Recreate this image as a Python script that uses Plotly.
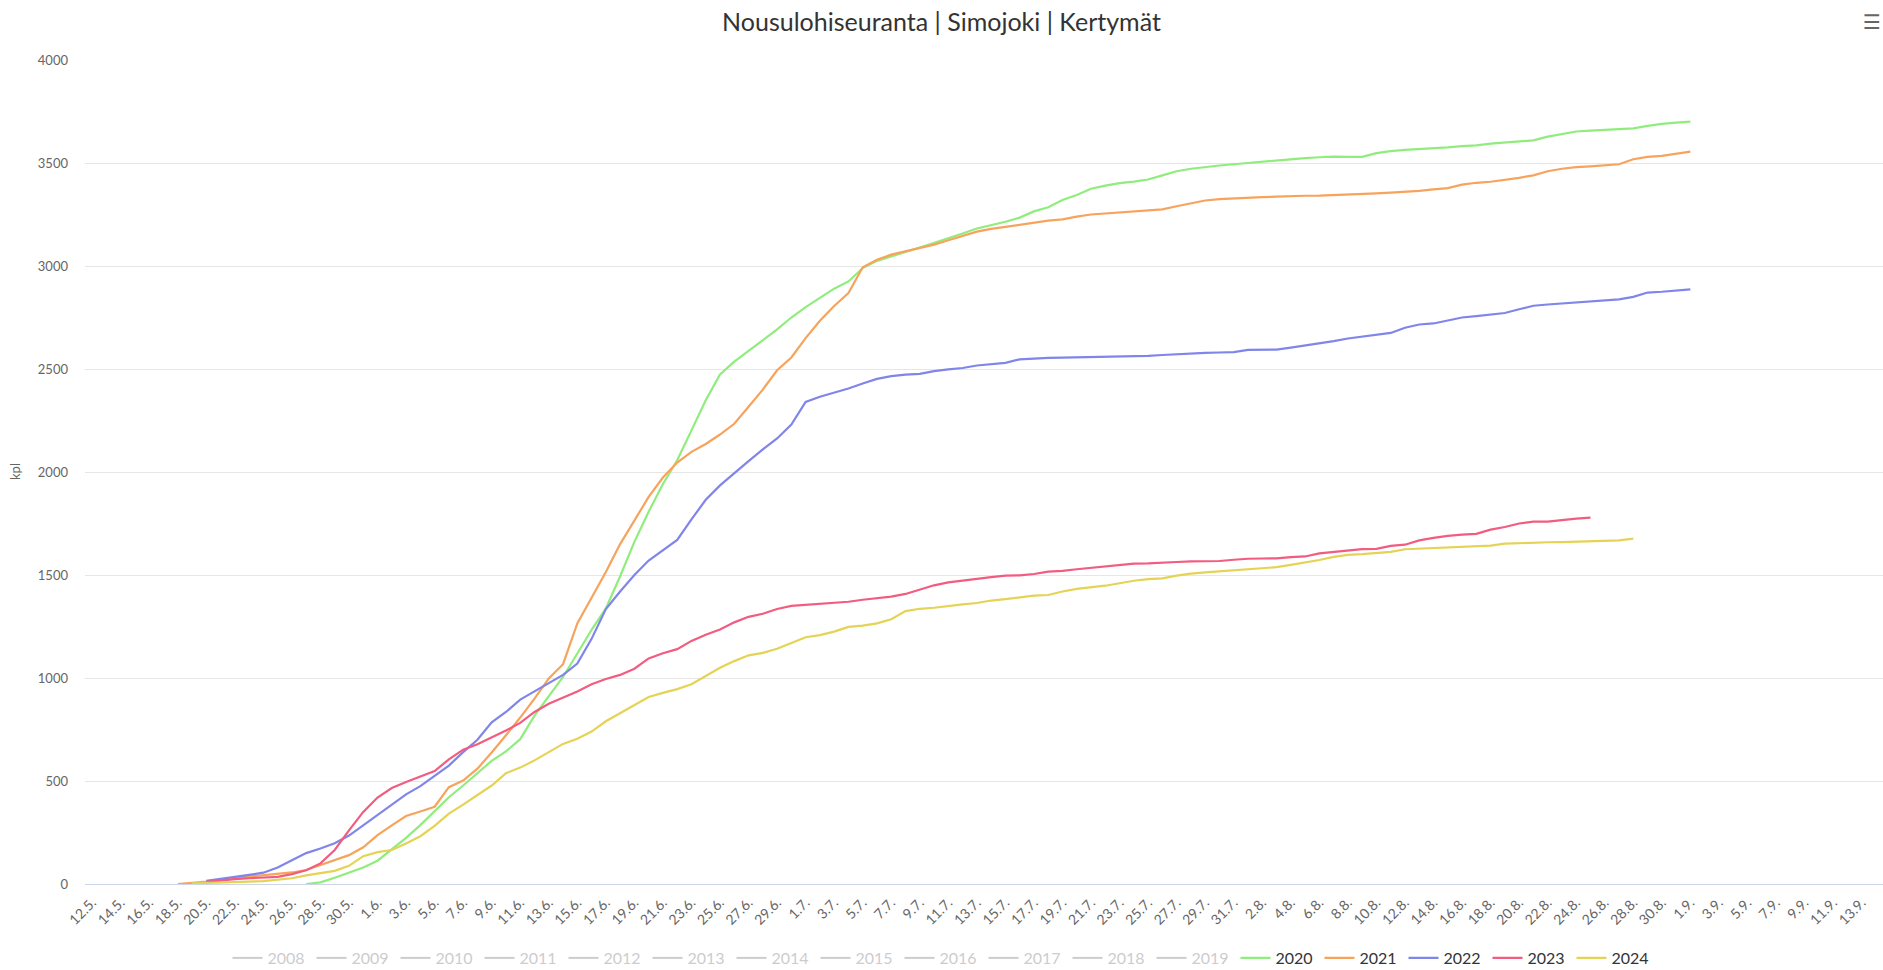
import plotly.graph_objects as go
import pandas as pd

# ---- categories (daily, 12.5. - 14.9.) ----
days = pd.date_range("2024-05-12", "2024-09-14", freq="D")
categories = [f"{d.day}.{d.month}." for d in days]

hidden_years = ["2008", "2009", "2010", "2011", "2012", "2013", "2014",
                "2015", "2016", "2017", "2018", "2019"]

# ---- cumulative counts (kpl), each list starts at its start date ----
start_2020 = "27.5."
values_2020 = [0, 8, 30, 55, 80, 113, 170, 224, 286, 355, 421, 478, 536, 598, 644,
               703, 817, 911, 1005, 1119, 1234, 1338, 1494, 1661, 1807, 1942, 2057,
               2202, 2348, 2473, 2536, 2588, 2640, 2692, 2750, 2800, 2845, 2890, 2925,
               2990, 3025, 3045, 3068, 3090, 3112, 3135, 3158, 3182, 3198, 3215, 3235,
               3265, 3285, 3320, 3345, 3375, 3390, 3402, 3410, 3420, 3440, 3460, 3472,
               3481, 3488, 3494, 3500, 3508, 3512, 3520, 3524, 3528, 3531, 3530, 3530,
               3548, 3558, 3564, 3567, 3571, 3576, 3582, 3586, 3594, 3600, 3604, 3610,
               3628, 3640, 3653, 3657, 3660, 3663, 3668, 3680, 3690, 3696, 3701]

start_2021 = "18.5."
values_2021 = [0, 5, 12, 20, 30, 36, 42, 50, 56, 68, 92, 115, 140, 178, 237, 285, 330,
               352, 375, 470, 502, 560, 638, 722, 808, 900, 998, 1067, 1265, 1390, 1515,
               1650, 1765, 1879, 1973, 2046, 2098, 2136, 2182, 2234, 2317, 2400, 2494,
               2556, 2650, 2734, 2806, 2869, 2994, 3030, 3055, 3072, 3088, 3104, 3125,
               3145, 3167, 3180, 3190, 3203, 3212, 3220, 3226, 3240, 3250, 3255, 3260,
               3265, 3267, 3275, 3290, 3305, 3318, 3325, 3329, 3331, 3334, 3337, 3340,
               3341, 3342, 3344, 3346, 3350, 3353, 3356, 3360, 3365, 3372, 3378, 3395,
               3404, 3409, 3418, 3428, 3440, 3460, 3472, 3480, 3484, 3490, 3494, 3518,
               3530, 3535, 3545, 3555]

start_2022 = "20.5."
values_2022 = [15, 24, 33, 44, 55, 80, 115, 150, 172, 198, 235, 285, 335, 386, 435,
               475, 525, 575, 640, 700, 785, 835, 895, 937, 975, 1015, 1070, 1190, 1335,
               1420, 1500, 1570, 1620, 1670, 1770, 1865, 1935, 1995, 2053, 2110, 2163,
               2230, 2340, 2365, 2385, 2405, 2430, 2452, 2465, 2473, 2476, 2490, 2498,
               2505, 2517, 2522, 2530, 2547, 2552, 2554, 2555, 2556, 2557, 2558, 2559,
               2560, 2564, 2568, 2572, 2576, 2578, 2580, 2582, 2593, 2593, 2594, 2604,
               2614, 2625, 2635, 2648, 2656, 2665, 2675, 2700, 2716, 2721, 2734, 2750,
               2757, 2765, 2772, 2790, 2807, 2813, 2818, 2822, 2826, 2830, 2838, 2850,
               2871, 2875, 2880, 2887]

start_2023 = "20.5."
values_2023 = [10, 18, 24, 28, 30, 35, 48, 67, 100, 165, 260, 350, 420, 466, 495, 523,
               548, 605, 652, 678, 710, 745, 782, 835, 875, 905, 935, 970, 995, 1015,
               1045, 1095, 1120, 1140, 1180, 1210, 1235, 1270, 1297, 1312, 1335, 1350,
               1355, 1362, 1365, 1370, 1380, 1388, 1395, 1408, 1428, 1450, 1464, 1471,
               1481, 1490, 1497, 1498, 1505, 1516, 1520, 1528, 1535, 1544, 1550, 1555,
               1556, 1558, 1563, 1566, 1567, 1568, 1574, 1579, 1580, 1581, 1587, 1590,
               1605, 1612, 1618, 1626, 1627, 1641, 1647, 1668, 1680, 1690, 1696, 1700,
               1720, 1733, 1750, 1759, 1759, 1768, 1774, 1779]

start_2024 = "19.5."
values_2024 = [3, 6, 8, 10, 12, 14, 20, 28, 42, 52, 64, 88, 135, 155, 165, 197, 232,
               282, 342, 385, 430, 478, 538, 565, 600, 640, 680, 705, 740, 790, 830, 870,
               908, 928, 946, 970, 1010, 1050, 1082, 1110, 1122, 1142, 1170, 1198, 1208,
               1225, 1248, 1254, 1265, 1285, 1325, 1336, 1341, 1350, 1357, 1364, 1376,
               1383, 1390, 1400, 1403, 1420, 1433, 1440, 1448, 1460, 1472, 1480, 1484,
               1497, 1507, 1513, 1518, 1523, 1529, 1533, 1538, 1549, 1560, 1573, 1588,
               1598, 1601, 1606, 1612, 1625, 1628, 1630, 1634, 1638, 1638, 1643, 1652,
               1655, 1658, 1659, 1660, 1662, 1664, 1666, 1668, 1677]

visible_series = [
    ("2020", start_2020, values_2020, "#90ed7d"),
    ("2021", start_2021, values_2021, "#f7a35c"),
    ("2022", start_2022, values_2022, "#8085e9"),
    ("2023", start_2023, values_2023, "#f15c80"),
    ("2024", start_2024, values_2024, "#e4d354"),
]

y_ticks = [0, 500, 1000, 1500, 2000, 2500, 3000, 3500, 4000]

FONT = "Lato, 'Open Sans', sans-serif"

fig = go.Figure()

for yr in hidden_years:
    fig.add_trace(go.Scatter(
        x=[categories[0]], y=[None], mode="lines",
        name=f"<span style='color:#999999'>{yr}</span>",
        line=dict(color="#999999", width=2),
        visible="legendonly", showlegend=True,
    ))

for name, start, vals, color in visible_series:
    i0 = categories.index(start)
    xs = categories[i0:i0 + len(vals)]
    fig.add_trace(go.Scatter(
        x=xs, y=vals, mode="lines", name=name,
        line=dict(color=color, width=2.2),
    ))

plot_left, plot_right = 85, 1883
plot_top, plot_bottom = 60, 884
W, H = 1883, 970

fig.update_layout(
    width=W, height=H,
    margin=dict(l=plot_left, r=W - plot_right, t=plot_top, b=H - plot_bottom),
    paper_bgcolor="white", plot_bgcolor="white",
    font=dict(family=FONT, color="#666666", size=13),
    title=dict(text="Nousulohiseuranta | Simojoki | Kertymät",
               x=0.5, xanchor="center", xref="container",
               y=1 - 22 / H, yanchor="middle", yref="container",
               font=dict(family=FONT, size=25, color="#333333")),
    showlegend=True,
    legend=dict(orientation="h", xref="container", x=0.5, xanchor="center",
                yref="container", y=1 - 958 / H, yanchor="middle",
                font=dict(family=FONT, size=16, color="#333333"),
                entrywidth=39, entrywidthmode="pixels",
                bgcolor="rgba(0,0,0,0)"),
    xaxis=dict(type="category", categoryorder="array", categoryarray=categories,
               range=[-0.5, len(categories) - 0.5],
               dtick=2, tick0=0, tickangle=-45, showgrid=False,
               showline=True, linecolor="#ccd6eb", linewidth=1,
               ticks="", ticklabelstandoff=4,
               tickfont=dict(family=FONT, size=14, color="#666666")),
    yaxis=dict(range=[0, 4000], tickvals=y_ticks, showgrid=True,
               gridcolor="#e6e6e6", gridwidth=1, zeroline=False,
               ticks="", ticklabelstandoff=16,
               tickfont=dict(family=FONT, size=13, color="#666666")),
    annotations=[
        dict(text="kpl", xref="paper", yref="paper",
             x=(15 - plot_left) / (plot_right - plot_left), y=0.5,
             xanchor="center", yanchor="middle", textangle=-90, showarrow=False,
             font=dict(family=FONT, size=13, color="#666666")),
        dict(text="☰", xref="paper", yref="paper",
             x=(1872 - plot_left) / (plot_right - plot_left),
             y=(plot_bottom - 22) / (plot_bottom - plot_top),
             xanchor="center", yanchor="middle", showarrow=False,
             font=dict(family="DejaVu Sans", size=20, color="#666666")),
    ],
)

fig.write_html("out.html", config={"displayModeBar": False},
               post_script="document.body.style.margin='0';document.body.style.overflow='hidden';")
